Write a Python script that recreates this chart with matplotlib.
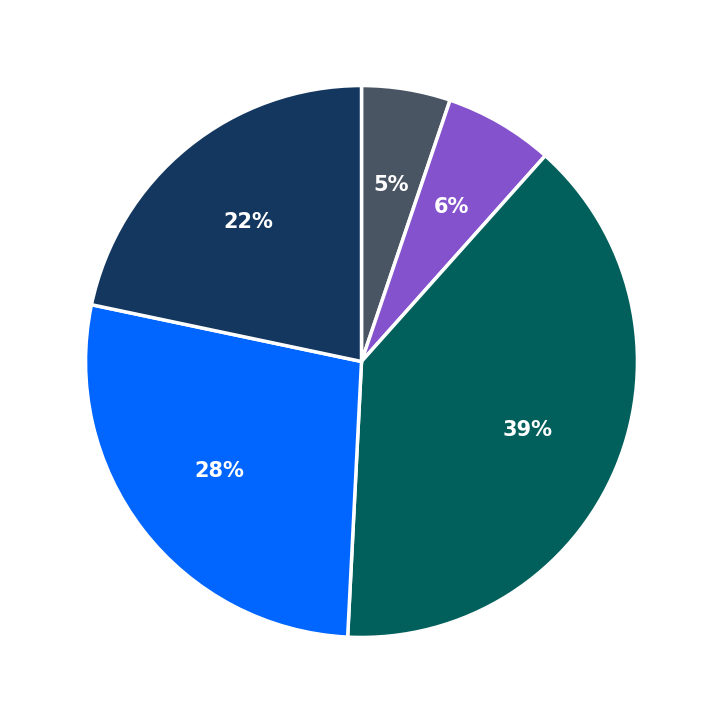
import matplotlib
matplotlib.use("Agg")
import matplotlib.pyplot as plt

labels = ["A", "B", "C", "D", "E"]
values = [5.2, 6.4, 39.2, 27.5, 21.7]
colors = ["#4a5563", "#8452cc", "#015f5c", "#0066ff", "#13375f"]

fig = plt.figure(figsize=(7.23, 7.23), dpi=100)
ax = fig.add_axes([0, 0, 1, 1])
ax.pie(values, colors=colors, startangle=90, counterclock=False,
       autopct=lambda p: f"{p:.0f}%", pctdistance=0.65,
       wedgeprops=dict(edgecolor="white", linewidth=2.5),
       textprops=dict(color="white", fontsize=15, fontweight="bold"))
ax.set_xlim(-1.31, 1.31)
ax.set_ylim(-1.31, 1.31)
ax.set_aspect("equal")
ax.axis("off")
fig.savefig("out.png", dpi=100)
